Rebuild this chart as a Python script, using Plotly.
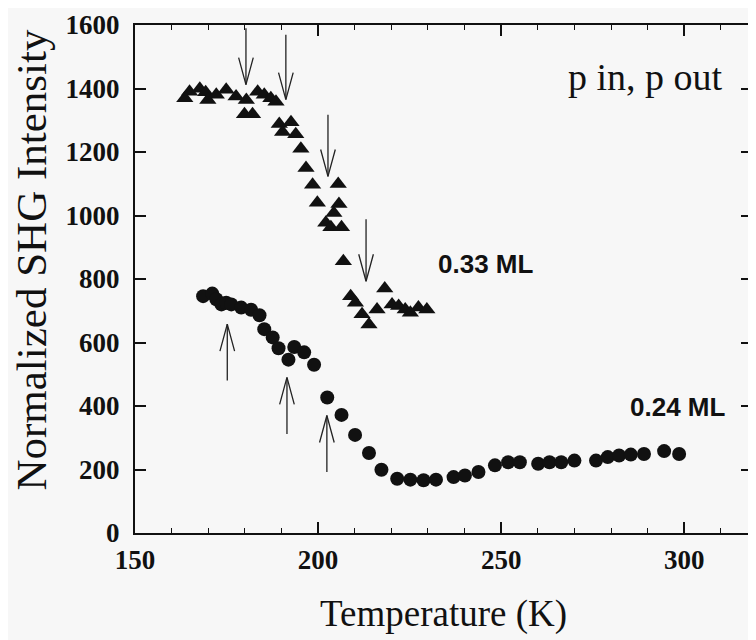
import plotly.graph_objects as go

# 0.33 ML (triangles)
t033 = [163.6, 164.9, 167.7, 169.3, 169.9, 172.2, 174.9, 177.6, 179.9, 180.4, 182.1, 183.5,
        185.3, 187.1, 188.5, 189.4, 190.3, 192.6, 193.9, 195.3, 196.7, 198.5, 199.8, 202.1,
        203.5, 204.3, 205.5, 205.7, 206.4, 206.9, 208.9, 210.2, 212.0, 213.9, 216.1, 218.2,
        220.2, 222.0, 223.8, 225.2, 227.4, 229.7]
v033 = [1369, 1390, 1399, 1388, 1364, 1380, 1396, 1375, 1319, 1364, 1319, 1390,
        1380, 1369, 1358, 1288, 1263, 1294, 1256, 1210, 1150, 1097, 1040, 977,
        963, 1008, 1099, 1036, 963, 856, 746, 725, 689, 657, 704, 770,
        720, 715, 704, 694, 710, 704]

# 0.24 ML (circles)
t024 = [168.6, 171.1, 172.2, 173.6, 174.9, 176.3, 179.0, 181.7, 184.0, 185.3, 187.6, 189.2,
        191.9, 193.5, 196.2, 198.9, 202.5, 206.4, 210.1, 213.9, 217.3, 221.6, 225.2, 228.8,
        232.2, 237.0, 240.1, 243.8, 248.3, 251.9, 255.1, 260.1, 263.2, 266.4, 270.0, 275.9,
        279.1, 282.2, 285.4, 289.0, 294.5, 298.6]
v024 = [746, 754, 736, 720, 725, 720, 710, 703, 686, 642, 616, 582,
        546, 586, 569, 530, 427, 372, 309, 252, 199, 171, 168, 166,
        168, 176, 181, 192, 213, 223, 223, 218, 223, 223, 228, 228,
        239, 244, 247, 249, 258, 249]

# arrows: x position, tip value, tail value
arrow_down_x = [180.3, 191.2, 202.7, 213.1]
arrow_down_tip = [1412, 1365, 1123, 793]
arrow_down_tail = [1590, 1569, 1317, 988]
arrow_up_x = [175.2, 191.5, 202.4]
arrow_up_tip = [658, 490, 370]
arrow_up_tail = [480, 312, 192]

x_ticks = [150, 200, 250, 300]
y_ticks = [0, 200, 400, 600, 800, 1000, 1200, 1400, 1600]

BG = "#f7f7f7"
INK = "#111111"
SERIF = "Liberation Serif, Times New Roman, serif"

fig = go.Figure()

fig.add_trace(go.Scatter(
    x=t033, y=v033, mode="markers",
    marker=dict(symbol="triangle-up", size=15, color=INK, line=dict(width=0)),
    showlegend=False, cliponaxis=False))
fig.add_trace(go.Scatter(
    x=t024, y=v024, mode="markers",
    marker=dict(symbol="circle", size=14, color=INK, line=dict(width=0)),
    showlegend=False, cliponaxis=False))

# build arrow line paths
barb_dx = 2.0
barb_dy = 85
ax_x, ax_y = [], []
for x, tip, tail in zip(arrow_down_x, arrow_down_tip, arrow_down_tail):
    ax_x += [x, x, None, x - barb_dx, x, x + barb_dx, None]
    ax_y += [tail, tip, None, tip + barb_dy, tip, tip + barb_dy, None]
for x, tip, tail in zip(arrow_up_x, arrow_up_tip, arrow_up_tail):
    ax_x += [x, x, None, x - barb_dx, x, x + barb_dx, None]
    ax_y += [tail, tip, None, tip - barb_dy, tip, tip - barb_dy, None]
fig.add_trace(go.Scatter(
    x=ax_x, y=ax_y, mode="lines",
    line=dict(color="#222222", width=1.3),
    showlegend=False, hoverinfo="skip"))

fig.add_annotation(x=289.4, y=1437, text="p in, p out", showarrow=False,
                   font=dict(family=SERIF, size=38, color=INK))
fig.add_annotation(x=245.7, y=847, text="0.33 ML", showarrow=False,
                   font=dict(family="Liberation Sans, Arial, sans-serif", size=26, color=INK, weight=700))
fig.add_annotation(x=298.1, y=398, text="0.24 ML", showarrow=False,
                   font=dict(family="Liberation Sans, Arial, sans-serif", size=26, color=INK, weight=700))

# axis titles
fig.add_annotation(xref="paper", yref="paper", x=0.5008, y=-0.16,
                   text="Temperature (K)", showarrow=False,
                   xanchor="center", yanchor="middle",
                   font=dict(family=SERIF, size=37, color=INK))
fig.add_annotation(xref="paper", yref="paper", x=-0.168, y=0.537,
                   text="Normalized SHG Intensity", showarrow=False, textangle=-90,
                   xanchor="center", yanchor="middle",
                   font=dict(family=SERIF, size=43, color=INK))

axis_common = dict(
    showline=True, linecolor=INK, linewidth=2, mirror="ticks",
    ticks="inside", ticklen=11, tickwidth=1.5, tickcolor=INK,
    showgrid=False, zeroline=False,
    tickfont=dict(family=SERIF, size=27, color=INK, weight=700),
)

fig.update_xaxes(
    range=[150, 318.5], tickvals=x_ticks,
    minor=dict(dtick=10, tick0=150, ticks="inside", ticklen=5, tickwidth=1.2, tickcolor=INK),
    ticklabelstandoff=2,
    **axis_common)
fig.update_yaxes(
    range=[0, 1600], tickvals=y_ticks,
    ticklabelstandoff=8,
    **axis_common)

# the page body adds an 8 px offset, so the figure is 8 px smaller on each axis
fig.update_layout(
    width=748, height=632,
    margin=dict(l=127, r=2, t=15, b=107),
    paper_bgcolor=BG, plot_bgcolor=BG,
    showlegend=False,
)

fig.write_html("out.html")
